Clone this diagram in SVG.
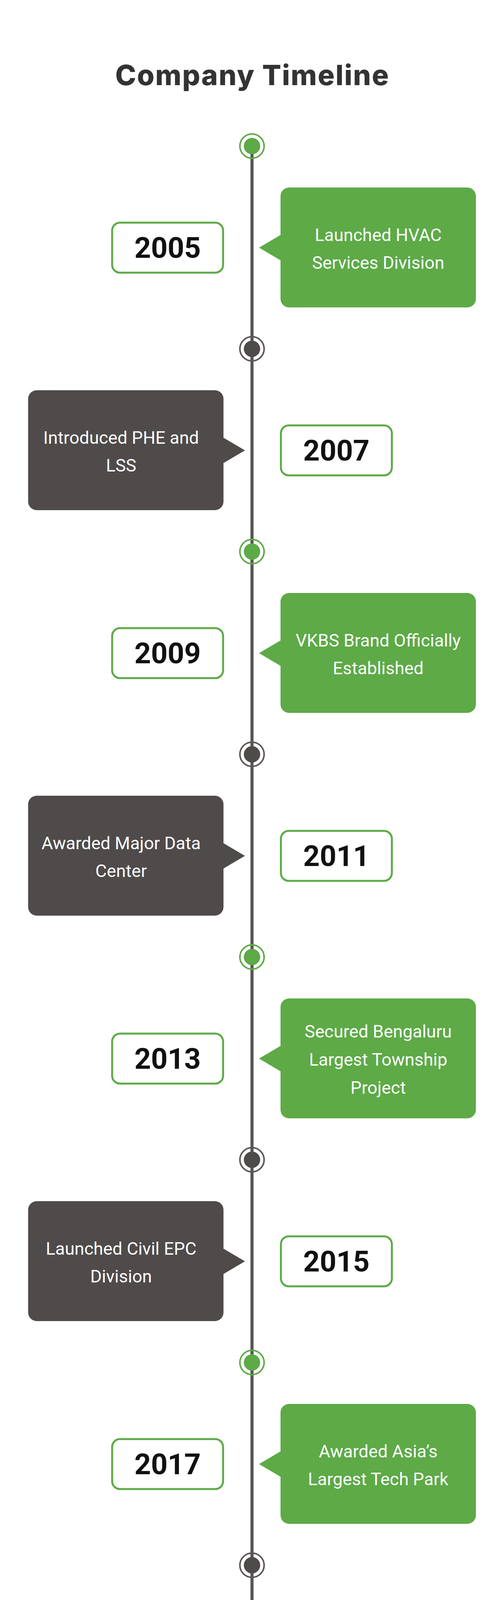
<svg xmlns="http://www.w3.org/2000/svg" width="1290" height="5400" viewBox="0 0 1290 5400">
<style>
.title{font-family:Inter,"Liberation Sans",sans-serif;font-weight:800;font-size:72px;fill:#333333}
.g{fill:#5daa47}.d{fill:#4f4b4a}
.yb{fill:#ffffff;stroke:#5daa47;stroke-width:5}
.yt{font-family:Roboto,"Liberation Sans",sans-serif;font-weight:700;font-size:74px;fill:#111111}
.bt{font-family:Roboto,"Liberation Sans",sans-serif;font-size:45px;fill:#ffffff}
.ringg{fill:none;stroke:#5daa47;stroke-width:4}.ringd{fill:none;stroke:#5a5756;stroke-width:4}
</style>
<rect width="1290" height="5400" fill="#ffffff"/>
<text class="title" x="645" y="218" text-anchor="middle" textLength="700">Company Timeline</text>
<g id="connectors">
<line x1="645" y1="374" x2="645" y2="5103" stroke="#5a5756" stroke-width="8"/>
<polyline points="613,5072 645,5104 677,5072" fill="none" stroke="#5a5756" stroke-width="8" stroke-linecap="round" stroke-linejoin="round"/>
</g>
<g id="dots">
<g><circle cx="645" cy="374" r="31" class="ringg"/><circle cx="645" cy="374" r="21" class="g"/></g>
<g><circle cx="645" cy="893" r="31" class="ringd"/><circle cx="645" cy="893" r="21" class="d"/></g>
<g><circle cx="645" cy="1412" r="31" class="ringg"/><circle cx="645" cy="1412" r="21" class="g"/></g>
<g><circle cx="645" cy="1931" r="31" class="ringd"/><circle cx="645" cy="1931" r="21" class="d"/></g>
<g><circle cx="645" cy="2450" r="31" class="ringg"/><circle cx="645" cy="2450" r="21" class="g"/></g>
<g><circle cx="645" cy="2969" r="31" class="ringd"/><circle cx="645" cy="2969" r="21" class="d"/></g>
<g><circle cx="645" cy="3488" r="31" class="ringg"/><circle cx="645" cy="3488" r="21" class="g"/></g>
<g><circle cx="645" cy="4007" r="31" class="ringd"/><circle cx="645" cy="4007" r="21" class="d"/></g>
<g><circle cx="645" cy="4526" r="31" class="ringg"/><circle cx="645" cy="4526" r="21" class="g"/></g>
</g>
<g id="e2005">
<rect class="g" x="718" y="480" width="500" height="307" rx="22"/><polygon class="g" points="719,601 663,634 719,667"/>
<text class="bt" x="968" y="617" text-anchor="middle">Launched HVAC</text><text class="bt" x="968" y="688" text-anchor="middle">Services Division</text>
<rect class="yb" x="287" y="570" width="284" height="128" rx="20"/><text class="yt" x="429" y="660" text-anchor="middle">2005</text>
</g>
<g id="e2007">
<rect class="d" x="72" y="999" width="500" height="307" rx="22"/><polygon class="d" points="571,1120 627,1153 571,1186"/>
<text class="bt" x="310" y="1136" text-anchor="middle">Introduced PHE and</text><text class="bt" x="310" y="1207" text-anchor="middle">LSS</text>
<rect class="yb" x="719" y="1089" width="284" height="128" rx="20"/><text class="yt" x="861" y="1179" text-anchor="middle">2007</text>
</g>
<g id="e2009">
<rect class="g" x="718" y="1518" width="500" height="307" rx="22"/><polygon class="g" points="719,1639 663,1672 719,1705"/>
<text class="bt" x="968" y="1655" text-anchor="middle">VKBS Brand Officially</text><text class="bt" x="968" y="1726" text-anchor="middle">Established</text>
<rect class="yb" x="287" y="1608" width="284" height="128" rx="20"/><text class="yt" x="429" y="1698" text-anchor="middle">2009</text>
</g>
<g id="e2011">
<rect class="d" x="72" y="2037" width="500" height="307" rx="22"/><polygon class="d" points="571,2158 627,2191 571,2224"/>
<text class="bt" x="310" y="2174" text-anchor="middle">Awarded Major Data</text><text class="bt" x="310" y="2245" text-anchor="middle">Center</text>
<rect class="yb" x="719" y="2127" width="284" height="128" rx="20"/><text class="yt" x="861" y="2217" text-anchor="middle">2011</text>
</g>
<g id="e2013">
<rect class="g" x="718" y="2556" width="500" height="307" rx="22"/><polygon class="g" points="719,2677 663,2710 719,2743"/>
<text class="bt" x="968" y="2656" text-anchor="middle">Secured Bengaluru</text><text class="bt" x="968" y="2728" text-anchor="middle">Largest Township</text><text class="bt" x="968" y="2800" text-anchor="middle">Project</text>
<rect class="yb" x="287" y="2646" width="284" height="128" rx="20"/><text class="yt" x="429" y="2736" text-anchor="middle">2013</text>
</g>
<g id="e2015">
<rect class="d" x="72" y="3075" width="500" height="307" rx="22"/><polygon class="d" points="571,3196 627,3229 571,3262"/>
<text class="bt" x="310" y="3212" text-anchor="middle">Launched Civil EPC</text><text class="bt" x="310" y="3283" text-anchor="middle">Division</text>
<rect class="yb" x="719" y="3165" width="284" height="128" rx="20"/><text class="yt" x="861" y="3255" text-anchor="middle">2015</text>
</g>
<g id="e2017">
<rect class="g" x="718" y="3594" width="500" height="307" rx="22"/><polygon class="g" points="719,3715 663,3748 719,3781"/>
<text class="bt" x="968" y="3731" text-anchor="middle">Awarded Asia’s</text><text class="bt" x="968" y="3802" text-anchor="middle">Largest Tech Park</text>
<rect class="yb" x="287" y="3684" width="284" height="128" rx="20"/><text class="yt" x="429" y="3774" text-anchor="middle">2017</text>
</g>
<g id="e2022">
<rect class="d" x="72" y="4113" width="500" height="323" rx="22"/><polygon class="d" points="571,4235 627,4268 571,4301"/>
<text class="bt" x="315" y="4177" text-anchor="middle">Ground Breaking</text><text class="bt" x="315" y="4249" text-anchor="middle">Hyderabad</text><text class="bt" x="315" y="4322" text-anchor="middle">Manufacturing</text><text class="bt" x="315" y="4394" text-anchor="middle">Facility</text>
<rect class="yb" x="719" y="4204" width="284" height="126" rx="20"/><text class="yt" x="861" y="4293" text-anchor="middle">2022</text>
</g>
<g id="e2023">
<rect class="g" x="718" y="4633" width="500" height="307" rx="22"/><polygon class="g" points="719,4753 663,4786 719,4819"/>
<text class="bt" x="972" y="4732" text-anchor="middle">Launch of operation</text><text class="bt" x="972" y="4804" text-anchor="middle">at Ananthapur PreFab</text><text class="bt" x="972" y="4876" text-anchor="middle">Factory</text>
<rect class="yb" x="287" y="4722" width="284" height="128" rx="20"/><text class="yt" x="429" y="4812" text-anchor="middle">2023</text>
</g>
</svg>
